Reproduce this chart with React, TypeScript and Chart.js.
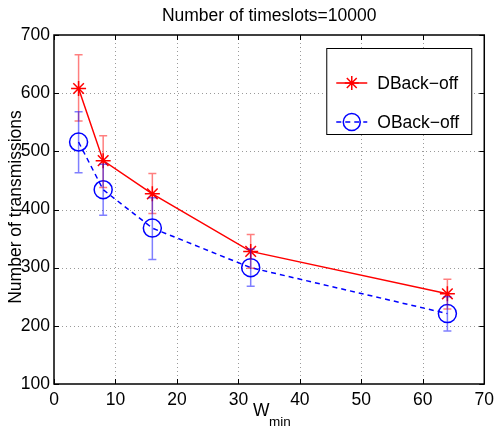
import React, { useEffect, useRef } from "react";
import { Chart, registerables } from "chart.js";

Chart.register(...registerables);

const wMin = [4, 8, 16, 32, 64];
const dBack = [608, 484, 427, 328, 255];
const dBackLow = [552, 438, 393, 299, 229];
const dBackHigh = [666, 527, 462, 357, 280];
const oBack = [516, 434, 368, 300, 221];
const oBackLow = [463, 390, 314, 268, 191];
const oBackHigh = [568, 478, 420, 332, 250];
const xTicks = [0, 10, 20, 30, 40, 50, 60, 70];
const yTicks = [100, 200, 300, 400, 500, 600, 700];
const seriesNames = ["DBack−off", "OBack−off"];
const titleText = "Number of timeslots=10000";
const yTitle = "Number of transmissions";

const FONT = "'Liberation Sans', Arial, Helvetica, sans-serif";

const decor = {
  id: "matlabDecor",
  beforeDatasetsDraw(chart: any) {
    const { ctx, chartArea: a, scales } = chart;
    const x = scales.x, y = scales.y;
    ctx.save();
    ctx.strokeStyle = "#9a9a9a";
    ctx.lineWidth = 1;
    ctx.setLineDash([1, 3]);
    xTicks.forEach((t) => {
      const px = Math.round(x.getPixelForValue(t)) + 0.5;
      if (t === xTicks[0] || t === xTicks[xTicks.length - 1]) return;
      ctx.beginPath();
      ctx.moveTo(px, a.top);
      ctx.lineTo(px, a.bottom);
      ctx.stroke();
    });
    yTicks.forEach((t) => {
      const py = Math.round(y.getPixelForValue(t)) + 0.5;
      if (t === yTicks[0] || t === yTicks[yTicks.length - 1]) return;
      ctx.beginPath();
      ctx.moveTo(a.left, py);
      ctx.lineTo(a.right, py);
      ctx.stroke();
    });
    ctx.restore();
  },
  afterDatasetsDraw(chart: any) {
    const { ctx, chartArea: a, scales } = chart;
    const x = scales.x, y = scales.y;
    ctx.save();
    // error bars
    const drawErr = (lo: number[], hi: number[], color: string) => {
      ctx.strokeStyle = color;
      ctx.lineWidth = 1.5;
      ctx.setLineDash([]);
      wMin.forEach((w, i) => {
        const px = x.getPixelForValue(w);
        const pl = y.getPixelForValue(lo[i]);
        const ph = y.getPixelForValue(hi[i]);
        ctx.beginPath();
        ctx.moveTo(px, pl);
        ctx.lineTo(px, ph);
        ctx.moveTo(px - 4, pl);
        ctx.lineTo(px + 4, pl);
        ctx.moveTo(px - 4, ph);
        ctx.lineTo(px + 4, ph);
        ctx.stroke();
      });
    };
    drawErr(dBackLow, dBackHigh, "rgba(255,0,0,0.5)");
    drawErr(oBackLow, oBackHigh, "rgba(0,0,255,0.5)");

    // axes box
    ctx.strokeStyle = "#000";
    ctx.lineWidth = 1.5;
    ctx.strokeRect(a.left, a.top, a.right - a.left, a.bottom - a.top);
    // inward ticks
    ctx.lineWidth = 1;
    xTicks.forEach((t) => {
      const px = Math.round(x.getPixelForValue(t)) + 0.5;
      ctx.beginPath();
      ctx.moveTo(px, a.bottom);
      ctx.lineTo(px, a.bottom - 5);
      ctx.moveTo(px, a.top);
      ctx.lineTo(px, a.top + 5);
      ctx.stroke();
    });
    yTicks.forEach((t) => {
      const py = Math.round(y.getPixelForValue(t)) + 0.5;
      ctx.beginPath();
      ctx.moveTo(a.left, py);
      ctx.lineTo(a.left + 5, py);
      ctx.moveTo(a.right, py);
      ctx.lineTo(a.right - 5, py);
      ctx.stroke();
    });

    // legend
    const bx = a.right - 158, by = a.top + 13, bw = 145, bh = 86;
    ctx.fillStyle = "#fff";
    ctx.fillRect(bx, by, bw, bh);
    ctx.strokeStyle = "#000";
    ctx.lineWidth = 1;
    ctx.strokeRect(bx + 0.5, by + 0.5, bw, bh);
    const entries = [
      { color: "#ff0000", dash: [], style: "star", r: 7, yOff: 35 },
      { color: "#0000ff", dash: [5, 4], style: "circle", r: 8.5, yOff: 74 },
    ];
    entries.forEach((e, i) => {
      const ly = by + e.yOff;
      const x0 = bx + 10, x1 = bx + 41;
      ctx.strokeStyle = e.color;
      ctx.lineWidth = 1.5;
      ctx.setLineDash(e.dash);
      ctx.beginPath();
      ctx.moveTo(x0, ly);
      ctx.lineTo(x1, ly);
      ctx.stroke();
      ctx.setLineDash([]);
      ctx.fillStyle = "rgba(0,0,0,0)";
      ctx.lineWidth = 1.5;
      (Chart as any).helpers?.drawPoint
        ? (Chart as any).helpers.drawPoint(ctx, { pointStyle: e.style, radius: e.r, rotation: 0, borderWidth: 1.5 }, (x0 + x1) / 2, ly)
        : null;
      if (!(Chart as any).helpers?.drawPoint) {
        ctx.beginPath();
        if (e.style === "circle") {
          ctx.arc((x0 + x1) / 2, ly, e.r, 0, Math.PI * 2);
        } else {
          const cx = (x0 + x1) / 2;
          for (let k = 0; k < 4; k++) {
            const ang = (k * Math.PI) / 4;
            ctx.moveTo(cx - Math.cos(ang) * e.r, ly - Math.sin(ang) * e.r);
            ctx.lineTo(cx + Math.cos(ang) * e.r, ly + Math.sin(ang) * e.r);
          }
        }
        ctx.stroke();
      }
      ctx.fillStyle = "#000";
      ctx.font = `17.5px ${FONT}`;
      ctx.textAlign = "left";
      ctx.textBaseline = "middle";
      ctx.fillText(seriesNames[i], bx + 51, ly + 1);
    });

    // titles
    ctx.fillStyle = "#000";
    ctx.font = `17.5px ${FONT}`;
    ctx.textAlign = "center";
    ctx.textBaseline = "middle";
    ctx.fillText(titleText, (a.left + a.right) / 2, 16);
    ctx.save();
    ctx.translate(16, 207);
    ctx.rotate(-Math.PI / 2);
    ctx.fillText(yTitle, 0, 0);
    ctx.restore();
    ctx.textAlign = "left";
    ctx.fillText("W", 253, 411);
    ctx.font = `13.5px ${FONT}`;
    ctx.fillText("min", 269, 422);
    ctx.restore();
  },
};

export default function App() {
  const ref = useRef<HTMLCanvasElement | null>(null);
  useEffect(() => {
    if (!ref.current) return;
    const chart = new Chart(ref.current, {
      type: "line",
      data: {
        datasets: [
          {
            label: seriesNames[0],
            data: wMin.map((w, i) => ({ x: w, y: dBack[i] })),
            borderColor: "#ff0000",
            backgroundColor: "rgba(0,0,0,0)",
            borderWidth: 1.5,
            pointStyle: "star",
            pointRadius: 7.5,
            pointBorderWidth: 1.5,
            pointBorderColor: "#ff0000",
            tension: 0,
          },
          {
            label: seriesNames[1],
            data: wMin.map((w, i) => ({ x: w, y: oBack[i] })),
            borderColor: "#0000ff",
            backgroundColor: "rgba(0,0,0,0)",
            borderWidth: 1.5,
            borderDash: [5, 4],
            pointStyle: "circle",
            pointRadius: 9,
            pointBorderWidth: 1.5,
            pointBorderColor: "#0000ff",
            tension: 0,
          },
        ],
      },
      options: {
        animation: false,
        responsive: true,
        maintainAspectRatio: false,
        layout: { padding: { left: 0, top: 35, right: 10, bottom: 0 } },
        plugins: { legend: { display: false }, title: { display: false }, tooltip: { enabled: false } },
        scales: {
          x: {
            type: "linear",
            min: 0,
            max: 70,
            grid: { display: false, drawTicks: false },
            border: { display: false },
            ticks: {
              stepSize: 10,
              autoSkip: false,
              maxRotation: 0,
              padding: 6,
              color: "#000",
              font: { family: FONT, size: 17.5 },
            },
            afterFit: (s: any) => { s.height = 45; },
          },
          y: {
            type: "linear",
            min: 100,
            max: 700,
            grid: { display: false, drawTicks: false },
            border: { display: false },
            ticks: {
              stepSize: 100,
              autoSkip: false,
              padding: 4,
              color: "#000",
              font: { family: FONT, size: 17.5 },
            },
            afterFit: (s: any) => { s.width = 54; },
          },
        },
      },
      plugins: [decor],
    });
    return () => chart.destroy();
  }, []);
  return (
    <div style={{ position: "absolute", left: 0, top: 0, width: 500, height: 429, background: "#fff" }}>
      <canvas ref={ref} />
    </div>
  );
}
